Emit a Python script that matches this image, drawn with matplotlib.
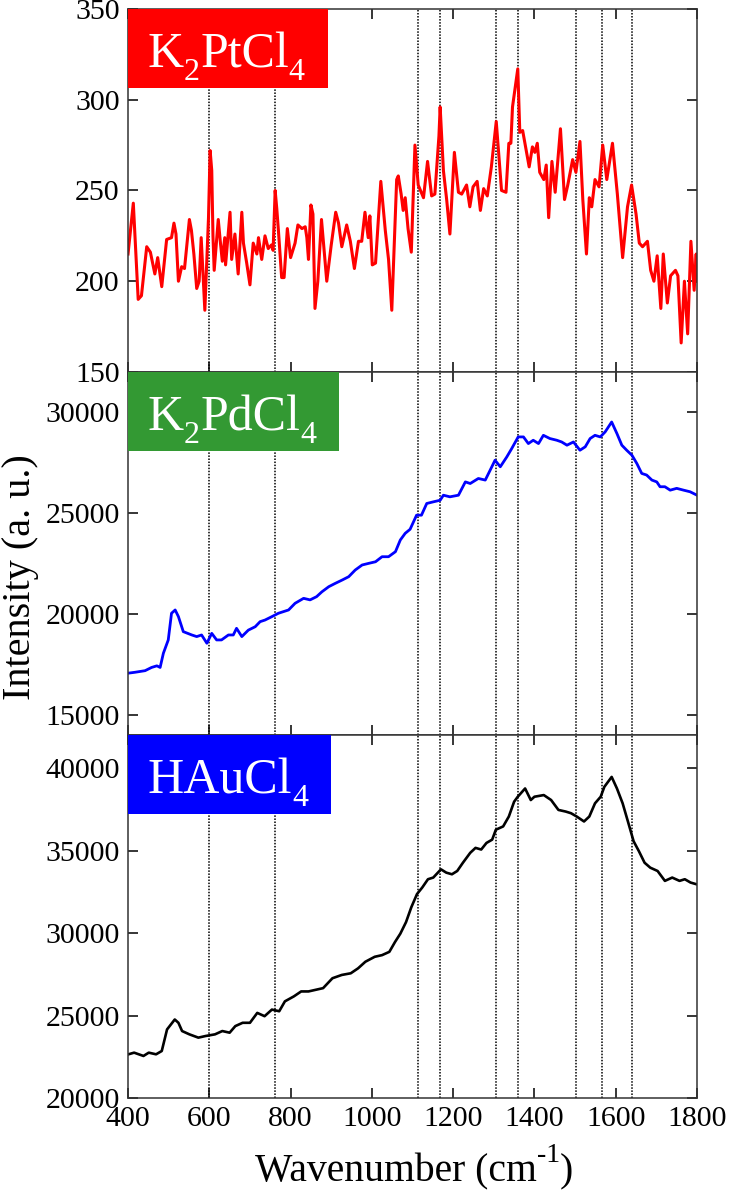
import matplotlib
matplotlib.use('agg')
import matplotlib.pyplot as plt
from matplotlib.patches import Rectangle
from matplotlib.ticker import MultipleLocator

plt.rcParams['font.family'] = 'Liberation Serif'

# K2PtCl4 spectrum (wavenumber, intensity)
pt_x = [400, 413, 425, 433, 446, 455, 466, 473, 483, 495, 507, 513, 518, 524, 532, 539,
        551, 556, 562, 569, 575, 580, 589, 594, 598, 602, 606, 609, 612, 622, 627, 632,
        638, 640, 651, 655, 663, 671, 680, 684, 692, 700, 708, 717, 721, 729, 737, 745,
        753, 757, 762, 766, 770, 778, 784, 792, 800, 811, 818, 828, 836, 840, 844, 850,
        855, 860, 867, 876, 889, 900, 911, 918, 926, 938, 947, 957, 967, 975, 983, 991,
        995, 1001, 1009, 1022, 1033, 1041, 1049, 1061, 1065, 1072, 1077, 1082, 1089, 1097,
        1106, 1114, 1127, 1137, 1147, 1155, 1165, 1168, 1176, 1184, 1192, 1203, 1213, 1221,
        1233, 1241, 1249, 1259, 1267, 1275, 1284, 1294, 1306, 1319, 1330, 1337, 1342, 1346,
        1359, 1364, 1371, 1387, 1395, 1401, 1407, 1413, 1423, 1429, 1435, 1443, 1451, 1464,
        1474, 1482, 1494, 1502, 1512, 1519, 1528, 1535, 1541, 1549, 1559, 1568, 1578, 1592,
        1604, 1617, 1629, 1639, 1650, 1658, 1666, 1678, 1686, 1694, 1702, 1711, 1717, 1727,
        1735, 1747, 1753, 1761, 1769, 1777, 1785, 1793, 1798, 1800]
pt_y = [215, 243, 190, 192, 219, 216, 204, 213, 197, 223, 224, 232, 226, 200, 208, 207,
        234, 228, 215, 196, 200, 224, 184, 212, 235, 272, 261, 225, 206, 234, 222, 211,
        224, 209, 238, 212, 226, 204, 238, 221, 210, 198, 221, 215, 224, 212, 225, 218,
        220, 217, 250, 240, 228, 202, 202, 229, 213, 221, 231, 229, 230, 224, 212, 242,
        237, 185, 200, 234, 200, 220, 238, 232, 219, 231, 222, 207, 222, 222, 238, 224,
        236, 209, 210, 255, 228, 212, 184, 256, 258, 248, 239, 246, 229, 216,
        275, 253, 246, 266, 247, 248, 280, 296, 261, 245, 226, 271, 249, 248,
        253, 241, 252, 255, 239, 251, 247, 263, 288, 250, 249, 276, 276, 296,
        317, 282, 283, 263, 274, 271, 276, 260, 256, 264, 235, 266, 249, 284,
        245, 253, 267, 260, 277, 245, 215, 246, 241, 256, 252, 275, 256, 276,
        248, 213, 241, 253, 237, 221, 219, 222, 206, 200, 214, 185, 215, 188,
        203, 206, 203, 166, 200, 171, 222, 195, 215, 200]

# K2PdCl4 spectrum
pd_x = [400, 417, 442, 458, 471, 479, 487, 499, 507, 516, 524, 536, 557, 569, 581, 594,
        606, 618, 630, 647, 659, 667, 680, 696, 713, 725, 737, 754, 770, 795, 811, 832,
        848, 864, 877, 894, 910, 927, 943, 959, 976, 992, 1009, 1025, 1041, 1058, 1070,
        1082, 1094, 1110, 1122, 1135, 1151, 1168, 1176, 1192, 1213, 1230, 1242, 1262, 1279,
        1291, 1303, 1316, 1332, 1344, 1360, 1373, 1385, 1397, 1410, 1422, 1438, 1455, 1467,
        1480, 1496, 1512, 1525, 1537, 1549, 1562, 1574, 1590, 1603, 1615, 1627, 1640, 1652,
        1664, 1676, 1689, 1701, 1709, 1721, 1734, 1750, 1767, 1783, 1800]
pd_y = [17065, 17110, 17190, 17350, 17430, 17350, 18055, 18714, 20036, 20200, 19870, 19125,
        18960, 18880, 18960, 18550, 19040, 18714, 18714, 18960, 18960, 19290, 18880, 19200,
        19370, 19620, 19700, 19870, 20036, 20200, 20530, 20777, 20700, 20860, 21100, 21355,
        21520, 21685, 21850, 22180, 22430, 22510, 22590, 22840, 22840, 23090, 23670, 24000,
        24200, 24900, 24900, 25480, 25560, 25640, 25890, 25810, 25890, 26550, 26470, 26720,
        26640, 27130, 27624, 27300, 27790, 28200, 28780, 28780, 28450, 28615, 28450, 28860,
        28700, 28615, 28530, 28370, 28530, 28120, 28290, 28700, 28860, 28780, 29030, 29520,
        28945, 28370, 28120, 27870, 27460, 26970, 26890, 26640, 26550, 26310, 26310, 26140,
        26230, 26140, 26060, 25890]

# HAuCl4 spectrum
au_x = [401, 415, 438, 451, 469, 483, 496, 515, 524, 533, 551, 573, 591, 614, 632, 650,
        664, 682, 700, 718, 736, 754, 772, 786, 808, 826, 844, 862, 880, 903, 926, 948,
        966, 984, 1007, 1025, 1043, 1057, 1070, 1084, 1097, 1111, 1124, 1138, 1151, 1170,
        1183, 1197, 1210, 1224, 1242, 1255, 1269, 1282, 1296, 1305, 1323, 1337, 1350, 1359,
        1377, 1391, 1400, 1423, 1441, 1459, 1477, 1490, 1504, 1522, 1535, 1549, 1563, 1572,
        1590, 1603, 1617, 1630, 1644, 1657, 1671, 1685, 1703, 1721, 1739, 1757, 1770, 1784,
        1798]
au_y = [22650, 22750, 22550, 22750, 22650, 22850, 24157, 24760, 24560, 24060, 23860, 23660,
        23760, 23860, 24060, 23960, 24360, 24560, 24560, 25160, 24960, 25360, 25260, 25860,
        26160, 26460, 26460, 26560, 26660, 27260, 27460, 27560, 27860, 28260, 28560, 28660,
        28860, 29460, 29960, 30660, 31560, 32360, 32760, 33260, 33360, 33860, 33660, 33560,
        33760, 34260, 34860, 35160, 35060, 35460, 35660, 36260, 36460, 37060, 37960, 38260,
        38760, 38060, 38260, 38360, 38060, 37460, 37360, 37260, 37060, 36760, 37060, 37860,
        38260, 38860, 39460, 38760, 37860, 36760, 35560, 34960, 34260, 33960, 33760, 33160,
        33360, 33160, 33260, 33060, 32960]

peaks = [600, 762, 1113, 1168, 1306, 1360, 1503, 1565, 1640]

# label pieces: (text, is_subscript)
names = [[('K', 0), ('2', 1), ('PtCl', 0), ('4', 1)],
         [('K', 0), ('2', 1), ('PdCl', 0), ('4', 1)],
         [('HAuCl', 0), ('4', 1)]]
box_colors = ['#ff0000', '#339933', '#0000ff']
box_widths = [0.3515, 0.371, 0.357]
line_colors = ['#ff0000', '#0000ff', 'black']
line_widths = [2.2, 2.0, 1.9]
ylims = [(150, 350), (14000, 32000), (20000, 42000)]
yticks = [[150, 200, 250, 300, 350], [15000, 20000, 25000, 30000],
          [20000, 25000, 30000, 35000, 40000]]
xs = [pt_x, pd_x, au_x]
ys = [pt_y, pd_y, au_y]


def chain_text(ax, x, y, pieces, big, small, drop, **kw):
    # writes pieces one after another, shifting sub/superscripts by 'drop' points
    d_big = 0.216 * big
    d_small = 0.216 * small
    prev = ax.text(x, y, pieces[0][0], fontsize=big, ha='left', va='baseline', **kw)
    prev_small = False
    for s, is_small in pieces[1:]:
        if is_small and not prev_small:
            dy = drop + d_big - d_small
        elif not is_small and prev_small:
            dy = -(drop + d_big - d_small)
        else:
            dy = 0
        prev = ax.annotate(s, xy=(1, 0), xycoords=prev, xytext=(0, dy),
                           textcoords='offset points', fontsize=small if is_small else big,
                           ha='left', va='bottom', **kw)
        prev_small = is_small
    return prev


fig = plt.figure(figsize=(7.32, 11.93), dpi=100)
left, width, h = 0.1749, 0.7773, 0.3043
bottoms = [0.0796 + 2 * h, 0.0796 + h, 0.0796]

for i in range(3):
    ax = fig.add_axes([left, bottoms[i], width, h])
    for p in peaks:
        ax.axvline(p, color='black', lw=1.1, ls=(0, (1, 1)), zorder=1)
    ax.plot(xs[i], ys[i], color=line_colors[i], lw=line_widths[i], zorder=2)
    ax.set_xlim(400, 1800)
    ax.set_ylim(*ylims[i])
    ax.set_yticks(yticks[i])
    ax.xaxis.set_major_locator(MultipleLocator(200))
    ax.tick_params(axis='both', which='major', direction='in', top=True, right=True,
                   length=7, width=1.1, labelsize=21.5, pad=6)
    for s in ax.spines.values():
        s.set_linewidth(1.1)
        s.set_color('#333333')
    if i < 2:
        ax.tick_params(labelbottom=False)
    bh = 79 / 362
    ax.add_patch(Rectangle((0, 1 - bh), box_widths[i], bh, transform=ax.transAxes,
                           facecolor=box_colors[i], edgecolor='none', zorder=3))
    chain_text(ax, 0.035, 1 - 58 / 362, names[i], 36, 23, -9.5,
               transform=ax.transAxes, color='white', zorder=4)

xl = fig.add_axes([0, 0, 1, 1])
xl.axis('off')
xlab = [('Wavenumber (cm', 0), ('-1', 1), (')', 0)]
chain_text(xl, 255 / 732, 1 - 1181 / 1193, xlab, 28.5, 20, 14, transform=xl.transAxes)

fig.text(0.003, 1 - 577 / 1193, 'Intensity (a. u.)', fontsize=29, rotation=90,
         ha='left', va='center')

fig.savefig('out.png', dpi=100)
